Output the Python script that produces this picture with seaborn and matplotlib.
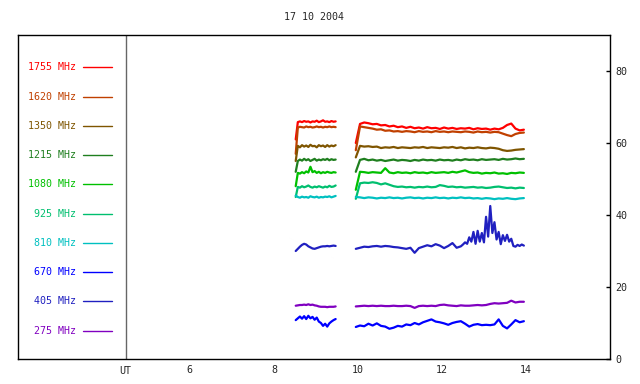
import matplotlib
matplotlib.use("Agg")
import matplotlib.pyplot as plt
import matplotlib.transforms as mtransforms
import seaborn as sns
import pandas as pd

# ---------------- data ----------------
labels = ["1755 MHz", "1620 MHz", "1350 MHz", "1215 MHz", "1080 MHz",
          "925 MHz", "810 MHz", "670 MHz", "405 MHz", "275 MHz"]
colors = ["#ff0000", "#c04000", "#7f5500", "#1f7f1f", "#00c000",
          "#00bf6f", "#00c0c0", "#0000ff", "#2020c0", "#8000c0"]

t_seg1 = [8.52, 8.57, 8.62, 8.67, 8.72, 8.77, 8.82, 8.87, 8.92, 8.97,
          9.02, 9.07, 9.12, 9.17, 9.22, 9.27, 9.32, 9.37, 9.42, 9.47]
t_seg2 = [9.95, 10.05, 10.15, 10.25, 10.35, 10.45, 10.55, 10.65, 10.75, 10.85,
          10.95, 11.05, 11.15, 11.25, 11.35, 11.45, 11.55, 11.65, 11.75, 11.85,
          11.95, 12.05, 12.15, 12.25, 12.35, 12.45, 12.55, 12.65, 12.75, 12.85,
          12.95, 13.05, 13.15, 13.25, 13.35, 13.45, 13.55, 13.65, 13.75, 13.85,
          13.95]
t_seg2_405 = [9.95, 10.05, 10.15, 10.25, 10.35, 10.45, 10.55, 10.65, 10.75, 10.85,
              10.95, 11.05, 11.15, 11.25, 11.35, 11.45, 11.55, 11.65, 11.75, 11.85,
              11.95, 12.05, 12.15, 12.25, 12.35, 12.45,
              12.50, 12.55, 12.60, 12.65, 12.70, 12.75, 12.80, 12.85, 12.90, 12.95,
              13.00, 13.05, 13.10, 13.15, 13.20, 13.25, 13.30, 13.35, 13.40, 13.45,
              13.50, 13.55, 13.60, 13.65, 13.70, 13.75, 13.80, 13.85, 13.90, 13.95]

f1755_a = [61, 65.8, 66.0, 65.8, 66.1, 65.9, 66.0, 65.7, 66.0, 65.9,
           66.2, 65.8, 66.0, 66.3, 65.9, 66.0, 65.8, 66.1, 65.9, 66.0]
f1755_b = [60, 65.3, 65.7, 65.5, 65.2, 65.3, 64.9, 65.0, 64.6, 64.8,
           64.4, 64.6, 64.2, 64.5, 64.1, 64.3, 64.0, 64.4, 64.1, 64.2,
           63.9, 64.3, 64.0, 64.2, 63.9, 64.1, 64.0, 64.2, 63.8, 64.1,
           63.9, 64.0, 63.7, 64.0, 63.8, 64.2, 65.0, 65.4, 64.0, 63.5, 63.7]

f1620_a = [57, 64.3, 64.5, 64.4, 64.3, 64.6, 64.4, 64.5, 64.3, 64.4,
           64.6, 64.4, 64.5, 64.3, 64.5, 64.4, 64.6, 64.4, 64.5, 64.4]
f1620_b = [58, 64.6, 64.4, 64.2, 64.0, 63.7, 63.8, 63.4, 63.5, 63.2,
           63.3, 63.1, 63.3, 63.2, 63.0, 63.3, 63.1, 63.2, 63.0, 63.3,
           63.1, 63.2, 63.0, 63.2, 63.1, 63.0, 63.2, 63.1, 62.9, 63.2,
           63.0, 63.1, 62.9, 63.1, 63.0, 62.6, 62.2, 61.9, 62.5, 62.8, 62.9]

f1350_a = [55, 59.2, 58.8, 59.4, 59.0, 59.3, 58.9, 59.5, 59.1, 59.2,
           58.8, 59.4, 59.1, 59.3, 58.9, 59.4, 59.0, 59.3, 59.1, 59.4]
f1350_b = [56, 59.2, 59.0, 59.1, 58.9, 59.0, 58.6, 58.8, 58.7, 58.9,
           58.6, 58.8, 58.7, 58.6, 58.8, 58.7, 58.9, 58.6, 58.8, 58.7,
           58.6, 58.8, 58.7, 58.9, 58.6, 58.8, 58.5, 58.7, 58.6, 58.8,
           58.6, 58.5, 58.7, 58.6, 58.4, 58.0, 57.8, 57.9, 58.1, 58.2, 58.3]

f1215_a = [52, 55.0, 55.4, 55.1, 55.6, 55.2, 55.5, 55.0, 55.3, 55.6,
           55.1, 55.4, 55.2, 55.5, 55.3, 55.6, 55.2, 55.5, 55.3, 55.4]
f1215_b = [52, 55.3, 55.6, 55.2, 55.4, 55.1, 55.3, 55.0, 55.2, 55.4,
           55.1, 55.3, 55.2, 55.0, 55.3, 55.1, 55.4, 55.2, 55.3, 55.1,
           55.4, 55.2, 55.3, 55.1, 55.4, 55.2, 55.5, 55.3, 55.4, 55.2,
           55.5, 55.3, 55.4, 55.5, 55.3, 55.6, 55.4, 55.5, 55.7, 55.5, 55.6]

f1080_a = [48, 51.7, 51.5, 51.9, 51.6, 52.1, 51.8, 53.4, 51.9, 52.2,
           51.7, 52.0, 51.6, 51.9, 51.7, 52.0, 51.8, 51.7, 51.9, 51.8]
f1080_b = [47, 52.0, 51.9, 51.7, 51.9, 51.8, 51.7, 53.0, 51.8, 51.6,
           51.9, 51.7, 51.8, 51.6, 51.9, 51.7, 51.8, 51.6, 51.9, 51.7,
           51.8, 51.9, 51.7, 52.0, 51.8, 52.1, 52.4, 51.9, 51.7, 51.8,
           51.5, 51.7, 51.6, 51.8, 51.5, 51.6, 51.4, 51.7, 51.6, 51.8, 51.7]

f925_a = [45, 47.8, 47.6, 48.0, 47.7, 47.9, 48.2, 47.8, 47.6, 47.9,
          47.7, 48.0, 47.8, 47.6, 47.9, 47.7, 48.1, 47.8, 47.9, 48.2]
f925_b = [44.5, 48.8, 49.0, 48.9, 49.1, 48.9, 48.5, 48.8, 48.4, 48.0,
          47.8, 47.9, 47.7, 47.8, 47.6, 47.8, 47.7, 47.9, 47.7, 47.8,
          48.3, 48.1, 47.8, 47.9, 47.7, 47.8, 47.6, 47.7, 47.8, 47.6,
          47.7, 47.5, 47.6, 47.8, 47.9, 47.7, 47.5, 47.6, 47.4, 47.6, 47.5]

f810_a = [45.4, 45.0, 44.8, 45.1, 44.9, 45.0, 44.8, 45.2, 45.0, 44.9,
          45.1, 44.8, 45.0, 44.9, 45.1, 45.0, 45.2, 44.9, 45.1, 45.3]
f810_b = [45.0, 44.9, 44.7, 44.9, 44.8, 44.6, 44.8, 44.7, 44.9, 44.7,
          44.8, 44.6, 44.8, 44.9, 44.7, 44.8, 44.6, 44.8, 44.7, 44.9,
          44.7, 44.8, 44.6, 44.8, 44.7, 44.9, 44.7, 44.8, 44.6, 44.7,
          44.5, 44.7, 44.6, 44.4, 44.6, 44.5, 44.7, 44.5, 44.4, 44.6, 44.7]

f670_a = [10.8, 11.3, 11.8, 11.2, 11.9, 11.1, 12.0, 11.3, 11.7, 10.9,
          11.5, 10.4, 10.0, 9.2, 9.8, 9.0, 9.9, 10.4, 10.8, 11.1]
f670_b = [8.9, 9.3, 9.1, 9.8, 9.3, 9.9, 9.2, 9.0, 8.4, 8.7,
          9.2, 9.0, 9.6, 9.4, 10.0, 9.6, 10.2, 10.6, 11.0, 10.4,
          10.2, 9.9, 9.5, 10.0, 10.3, 10.5, 9.8, 9.0, 9.5, 9.7,
          9.4, 9.5, 9.4, 9.6, 11.0, 9.2, 8.5, 9.6, 10.8, 10.2, 10.5]

f405_a = [30.0, 30.6, 31.2, 31.7, 32.0, 31.8, 31.3, 31.0, 30.7, 30.6,
          30.8, 31.0, 31.2, 31.3, 31.3, 31.4, 31.3, 31.4, 31.5, 31.4]
f405_b = [30.6, 30.9, 31.2, 31.1, 31.3, 31.4, 31.2, 31.4, 31.3, 31.1,
          31.0, 30.8, 30.6, 30.9, 29.5, 30.8, 31.2, 31.6, 31.3, 31.9,
          31.5, 30.8, 31.4, 32.2, 30.9, 31.3,
          31.8, 32.4, 32.0, 33.8, 32.6, 35.3, 32.0, 35.6, 32.6, 35.0,
          32.4, 39.5, 34.0, 42.5, 35.0, 38.0, 33.2, 35.3, 31.9, 34.4,
          32.8, 34.5, 32.6, 33.4, 31.4, 31.2, 31.7, 31.4, 31.8, 31.5]

f275_a = [14.8, 14.9, 15.0, 15.0, 15.1, 15.0, 15.2, 15.0, 15.1, 14.9,
          14.8, 14.6, 14.5, 14.5, 14.5, 14.4, 14.5, 14.5, 14.5, 14.6]
f275_b = [14.6, 14.7, 14.8, 14.7, 14.8, 14.7, 14.8, 14.7, 14.7, 14.8,
          14.7, 14.7, 14.8, 14.7, 14.2, 14.7, 14.8, 14.7, 14.8, 14.7,
          15.0, 15.1, 14.9, 14.8, 14.7, 14.9, 14.8, 14.8, 14.9, 15.0,
          14.9, 15.0, 15.3, 15.5, 15.4, 15.5, 15.6, 16.2, 15.7, 15.9, 15.9]

x_ticks = [6, 8, 10, 12, 14]
y_ticks = [0, 20, 40, 60, 80]
ut_pos = 4.47
title = "17 10 2004"

series = {
    "1755 MHz": (f1755_a, f1755_b, t_seg2),
    "1620 MHz": (f1620_a, f1620_b, t_seg2),
    "1350 MHz": (f1350_a, f1350_b, t_seg2),
    "1215 MHz": (f1215_a, f1215_b, t_seg2),
    "1080 MHz": (f1080_a, f1080_b, t_seg2),
    "925 MHz": (f925_a, f925_b, t_seg2),
    "810 MHz": (f810_a, f810_b, t_seg2),
    "670 MHz": (f670_a, f670_b, t_seg2),
    "405 MHz": (f405_a, f405_b, t_seg2_405),
    "275 MHz": (f275_a, f275_b, t_seg2),
}

rows = []
for name, (va, vb, tb) in series.items():
    assert len(va) == len(t_seg1), name
    assert len(vb) == len(tb), name
    for t, v in zip(t_seg1, va):
        rows.append((t, v, name, 1))
    for t, v in zip(tb, vb):
        rows.append((t, v, name, 2))
df = pd.DataFrame(rows, columns=["t", "v", "freq", "seg"])

# ---------------- plot ----------------
sns.set_style("white")
plt.rcParams["font.family"] = ["DejaVu Sans Mono"]
plt.rcParams["font.size"] = 7.2

fig = plt.figure(figsize=(6.4, 3.84), dpi=100)
ax = fig.add_axes([18 / 640, 1 - 359 / 384, 592 / 640, 324 / 384])

palette = dict(zip(labels, colors))
sns.lineplot(data=df, x="t", y="v", hue="freq", units="seg", estimator=None,
             hue_order=labels, palette=palette, legend=False, sort=False,
             linewidth=1.6, ax=ax)

ax.set_xlim(1.91, 16.0)
ax.set_ylim(0, 90)
ax.axvline(ut_pos, color="#666666", lw=1.0)

ax.set_xticks(x_ticks)
ax.set_xticklabels([str(x) for x in x_ticks])
ax.yaxis.tick_right()
ax.set_yticks(y_ticks)
ax.set_yticklabels([str(y) for y in y_ticks])
ax.tick_params(axis="both", direction="in", length=3, width=1, color="black",
               labelsize=7.2, pad=4)
ax.set_xlabel("")
ax.set_ylabel("")
for s in ax.spines.values():
    s.set_visible(True)
    s.set_color("black")
    s.set_linewidth(1.0)

blend = mtransforms.blended_transform_factory(ax.transData, ax.transAxes)
ax.text(ut_pos, -0.022, "UT", transform=blend, ha="center", va="top",
        fontsize=7.2)

# legend panel
for i, (lab, col) in enumerate(zip(labels, colors)):
    yy = 0.900 - i * 0.0903
    ax.text(0.098, yy, lab, transform=ax.transAxes, ha="right", va="center",
            color=col, fontsize=7.2)
    ax.plot([0.1098, 0.1583], [yy, yy], transform=ax.transAxes, color=col,
            lw=1.0, clip_on=False)

fig.text(314 / 640, 1 - 17 / 384, title, ha="center", va="center", fontsize=7.2)

fig.savefig("out.png", dpi=100)
